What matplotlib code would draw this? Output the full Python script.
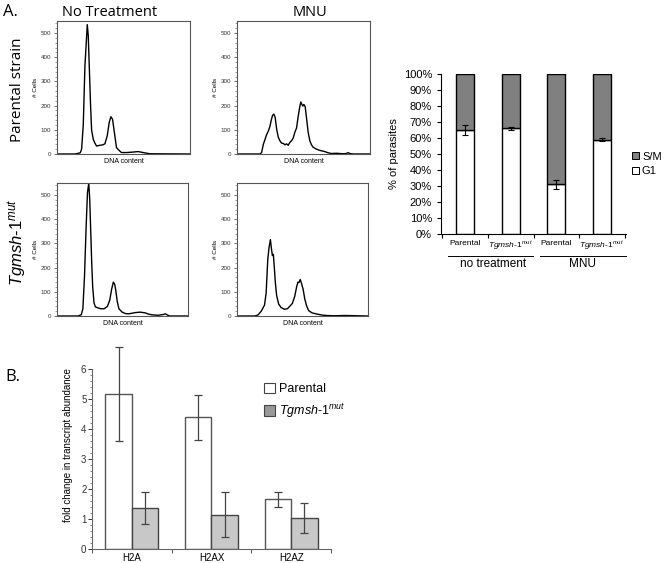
import numpy as np
import matplotlib
matplotlib.use("Agg")
import matplotlib.pyplot as plt
from matplotlib.patches import Patch
from matplotlib.ticker import MultipleLocator, FixedLocator

plt.rcParams['font.family'] = ['Liberation Sans', 'DejaVu Sans']
plt.rcParams['mathtext.fontset'] = 'custom'
plt.rcParams['mathtext.rm'] = 'Liberation Sans'
plt.rcParams['mathtext.it'] = 'Liberation Sans:italic'

# ---- flow cytometry histograms (channel, count) ----
par_nt_ch = [0, 27, 32, 35, 37, 39.5, 42, 44, 45.5, 47, 48.5, 50.5, 52, 54.5, 57, 59.5, 64.5, 69, 72,
             75.5, 78.5, 81, 83.5, 87, 89.5, 94.5, 97, 104.5, 114.5, 122, 129.5, 139.5, 199.5]
par_nt_ct = [0, 0, 3, 5, 20, 120, 365, 460, 535, 490, 365, 200, 100, 61, 45, 33, 36, 38, 42,
             75, 130, 154, 144, 75, 26, 12, 6, 6, 8, 10, 6, 1, 0]

par_mnu_ch = [0, 34.5, 37, 39.5, 42, 44.5, 47, 49.5, 51.5, 53.5, 55.5, 57.5, 59.5, 62, 64.5, 67, 69.5, 72,
              74.5, 77, 79.5, 82, 84.5, 87, 89.5, 92, 94.5, 96, 97.5, 99, 100.5, 102.5, 104.5, 107,
              109.5, 112, 114.5, 119.5, 124.5, 132, 137, 142, 149.5, 159.5, 164.5, 167, 169.5, 174.5, 199.5]
par_mnu_ct = [0, 0, 6, 39, 59, 80, 94, 114, 140, 160, 165, 150, 105, 70, 55, 45, 44, 38,
              42, 36, 48, 55, 66, 90, 107, 155, 197, 215, 205, 198, 205, 196, 150, 90,
              55, 38, 28, 20, 15, 10, 5, 2, 3, 1, 2, 6, 2, 0, 0]

mut_nt_ch = [0, 32, 37, 39.5, 42, 44.5, 46.5, 48.5, 50, 51.5, 53, 54.5, 56.5, 58.5, 62, 67, 72, 77,
             80.5, 83.5, 86, 88, 89.5, 92, 94.5, 99.5, 104.5, 109.5, 119.5, 127, 134.5, 139.5, 144.5,
             154.5, 162, 165.5, 168.5, 172, 199.5]
mut_nt_ct = [0, 0, 5, 30, 165, 370, 510, 549, 480, 350, 220, 120, 55, 38, 34, 30, 30, 40,
             65, 112, 140, 132, 110, 60, 30, 16, 10, 9, 14, 16, 13, 8, 5,
             3, 6, 9, 4, 0, 0]

mut_mnu_ch = [0, 27, 32, 37, 42, 44.5, 47, 49, 51, 52.5, 54, 55.5, 57, 58.5, 60.5, 63.5, 67, 72, 77,
              80.5, 84.5, 88, 91, 93, 94.5, 96.5, 98.5, 101, 103.5, 106.5, 109.5, 114.5, 122, 129.5,
              137, 149.5, 162, 167, 199.5]
mut_mnu_ct = [0, 0, 4, 20, 45, 95, 235, 285, 316, 280, 250, 255, 200, 140, 85, 50, 36, 28, 30,
              40, 52, 80, 120, 140, 138, 151, 135, 110, 70, 40, 22, 13, 8, 4,
              2, 1, 2, 2, 0]

# ---- cell cycle bar chart ----
cc_labels = ['Parental', r'$\mathit{Tgmsh}$-$\mathit{1^{mut}}$', 'Parental', r'$\mathit{Tgmsh}$-$\mathit{1^{mut}}$']
g1 = [65, 66, 31, 59]
g1_err = [3, 0.8, 3, 0.8]
sm = [100 - v for v in g1]

# ---- qPCR bar chart ----
genes = ['H2A', 'H2AX', 'H2AZ']
parental = [5.17, 4.40, 1.66]
parental_err = [1.56, 0.75, 0.25]
mutant = [1.36, 1.14, 1.05]
mutant_err = [0.54, 0.75, 0.50]

W, H = 664, 563
fig = plt.figure(figsize=(W / 100, H / 100), dpi=100)


def px(l, t, r, b):
    return [l / W, 1 - b / H, (r - l) / W, (b - t) / H]


def hist_panel(rect, ch, ct):
    ax = fig.add_axes(px(*rect))
    ax.plot(ch, ct, color='black', lw=1.0)
    ax.set_xlim(0, 200)
    ax.set_ylim(0, 550)
    ax.set_xticks([])
    ax.set_yticks([0, 100, 200, 300, 400, 500])
    ax.yaxis.set_minor_locator(MultipleLocator(20))
    ax.tick_params(axis='y', which='major', labelsize=4.5, length=2.5, width=0.5, pad=1.5, colors='#333333')
    ax.tick_params(axis='y', which='minor', length=1.2, width=0.4, colors='#555555')
    for s in ax.spines.values():
        s.set_color('#555555')
        s.set_linewidth(0.8)
    ax.set_ylabel('# Cells', fontsize=4.5, labelpad=2)
    ax.set_xlabel('DNA content', fontsize=5, labelpad=3)
    return ax


hist_panel((57, 21, 190, 154), par_nt_ch, par_nt_ct)
hist_panel((237, 21, 370, 154), par_mnu_ch, par_mnu_ct)
hist_panel((57, 183, 188, 316), mut_nt_ch, mut_nt_ct)
hist_panel((237, 183, 368, 316), mut_mnu_ch, mut_mnu_ct)

tfont = ['Open Sans', 'DejaVu Sans']
fig.text(3 / W, 1 - 12 / H, 'A.', fontsize=12, family=tfont, va='center', ha='left')
fig.text(5 / W, 1 - 377 / H, 'B.', fontsize=12, family=tfont, va='center', ha='left')
fig.text(110 / W, 1 - 12 / H, 'No Treatment', fontsize=10.5, family=tfont, va='center', ha='center')
fig.text(310 / W, 1 - 12 / H, 'MNU', fontsize=10.5, family=tfont, va='center', ha='center')
fig.text(18 / W, 1 - 90 / H, 'Parental strain', fontsize=11, family=tfont, rotation=90,
         va='center', ha='center')
fig.text(18 / W, 1 - 242 / H, r'$\mathit{Tgmsh}$-$\mathit{1^{mut}}$', fontsize=12, rotation=90,
         va='center', ha='center')

# ---- stacked bar chart ----
ax2 = fig.add_axes(px(441, 74, 626, 234))
x = np.arange(len(g1))
ax2.bar(x, g1, width=0.39, color='white', edgecolor='black', linewidth=1.0, label='G1')
ax2.bar(x, sm, bottom=g1, width=0.39, color='#808080', edgecolor='black', linewidth=1.0, label='S/M')
ax2.errorbar(x, g1, yerr=g1_err, fmt='none', ecolor='black', elinewidth=0.8, capsize=2.5, capthick=0.8)
ax2.set_xlim(-0.53, 3.53)
ax2.set_ylim(0, 100)
ax2.set_yticks(range(0, 101, 10))
ax2.set_yticklabels(['%d%%' % v for v in range(0, 101, 10)])
ax2.tick_params(axis='y', labelsize=8, length=3, width=0.8, direction='out')
ax2.set_xticks(x)
ax2.set_xticklabels(cc_labels, fontsize=6)
ax2.tick_params(axis='x', which='major', length=0, pad=4)
ax2.set_xticks([-0.5, 0.5, 1.5, 2.5, 3.5], minor=True)
ax2.tick_params(axis='x', which='minor', length=3, width=0.8, direction='out')
for s in ['top', 'right']:
    ax2.spines[s].set_visible(False)
ax2.spines['left'].set_linewidth(0.8)
ax2.spines['bottom'].set_linewidth(0.8)
ax2.set_ylabel('% of parasites', fontsize=8, labelpad=3)
tr = ax2.get_xaxis_transform()
ax2.plot([-0.37, 1.49], [-0.1375, -0.1375], transform=tr, clip_on=False, color='black', lw=0.7)
ax2.plot([1.64, 3.53], [-0.1375, -0.1375], transform=tr, clip_on=False, color='black', lw=0.7)
ax2.text(0.61, -0.19, 'no treatment', transform=tr, fontsize=8.5, ha='center', va='center')
ax2.text(2.57, -0.19, 'MNU', transform=tr, fontsize=8.5, ha='center', va='center')
h_sm = Patch(facecolor='#808080', edgecolor='black', linewidth=0.7)
h_g1 = Patch(facecolor='white', edgecolor='black', linewidth=0.7)
fig.legend([h_sm, h_g1], ['S/M', 'G1'], loc='center left', bbox_to_anchor=(632 / W, 1 - 164 / H),
           frameon=False, fontsize=8, handlelength=0.6, handleheight=0.6, handletextpad=0.3,
           labelspacing=0.4, borderpad=0, borderaxespad=0)

# ---- qPCR grouped bars ----
ax3 = fig.add_axes(px(92, 342, 331, 549))
gx = np.arange(len(genes))
bw = 0.333
ax3.bar(gx - bw / 2, parental, width=bw, color='white', edgecolor='#555555', linewidth=1.0)
ax3.bar(gx + bw / 2, mutant, width=bw, color='#c8c8c8', edgecolor='#444444', linewidth=1.0)
ax3.errorbar(gx - bw / 2, parental, yerr=parental_err, fmt='none', ecolor='#444444',
             elinewidth=0.9, capsize=3, capthick=0.9)
ax3.errorbar(gx + bw / 2, mutant, yerr=mutant_err, fmt='none', ecolor='#444444',
             elinewidth=0.9, capsize=3, capthick=0.9)
ax3.set_xlim(-0.5, 2.5)
ax3.set_ylim(0, 6.9)
ax3.set_yticks(range(0, 7))
ax3.yaxis.set_minor_locator(FixedLocator(np.arange(0, 6.01, 0.2)))
ax3.tick_params(axis='y', which='major', labelsize=7, length=3, width=0.7, colors='#333333', pad=1)
ax3.tick_params(axis='y', which='minor', length=1.5, width=0.5, colors='#555555')
ax3.spines['left'].set_bounds(0, 6)
ax3.set_xticks(gx)
ax3.set_xticklabels(genes, fontsize=7)
ax3.tick_params(axis='x', which='major', length=0, pad=3)
ax3.set_xticks([-0.5, 0.5, 1.5, 2.5], minor=True)
ax3.tick_params(axis='x', which='minor', length=3, width=0.7, direction='out', colors='#555555')
for s in ['top', 'right']:
    ax3.spines[s].set_visible(False)
for s in ['left', 'bottom']:
    ax3.spines[s].set_color('#666666')
    ax3.spines[s].set_linewidth(0.8)
ax3.set_ylabel('fold change in transcript abundance', fontsize=7, labelpad=6)
h_p = Patch(facecolor='white', edgecolor='#444444', linewidth=0.8)
h_m = Patch(facecolor='#999999', edgecolor='#444444', linewidth=0.8)
fig.legend([h_p, h_m], ['Parental', r'$\mathit{Tgmsh}$-$\mathit{1^{mut}}$'], loc='upper left',
           bbox_to_anchor=(264 / W, 1 - 383 / H), frameon=False, fontsize=9, handlelength=0.9,
           handleheight=0.9, handletextpad=0.3, labelspacing=0.5, borderpad=0, borderaxespad=0)

fig.savefig('out.png', dpi=100)
